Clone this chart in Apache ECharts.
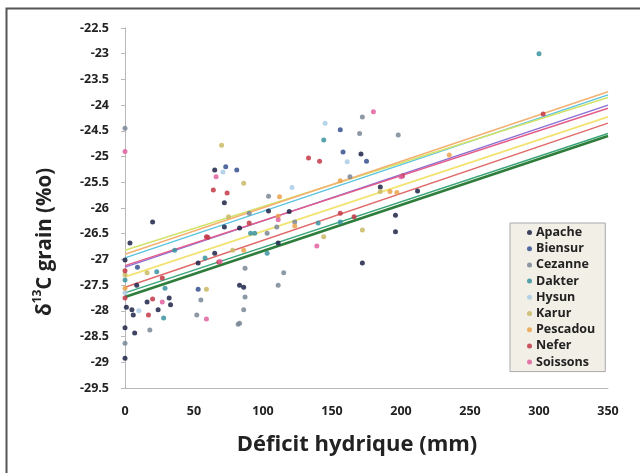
<!DOCTYPE html>
<html>
<head>
<meta charset="utf-8">
<script src="https://cdn.jsdelivr.net/npm/echarts@6/dist/echarts.min.js"></script>
<style>
html,body{margin:0;padding:0;background:#fff;}
#c{width:640px;height:473px;}
</style>
</head>
<body>
<div id="c"></div>
<script>
// ---- data ----
const seriesNames = ['Apache','Biensur','Cezanne','Dakter','Hysun','Karur','Pescadou','Nefer','Soissons'];
const xTicks = [0, 50, 100, 150, 200, 250, 300, 350];
const yTicks = [-29.5, -22.5];

const apache = [[0,-27.01],[1,-27.93],[5,-27.98],[6,-28.08],[0,-28.33],[7,-28.43],[8.5,-27.5],[0,-28.92],[16,-27.83],[32,-27.75],[33,-27.88],[24,-27.98],[20,-26.27],[3.6,-26.68],[53,-27.07],[65,-25.26],[72,-25.9],[72,-26.37],[83,-26.39],[104,-26.06],[119,-26.07],[65,-26.88],[111,-26.68],[86,-27.54],[172,-27.07],[171,-24.95],[196,-26.14],[196,-26.46],[83,-27.5],[212,-25.67],[185,-25.59]];
const biensur = [[158,-24.91],[73,-25.2],[81,-25.26],[53,-27.58],[9,-27.15],[175,-25.09],[156,-24.48]];
const cezanne = [[172,-24.23],[170,-24.55],[198,-24.58],[104,-25.77],[90,-26.1],[110,-26.37],[103,-26.49],[87,-27.17],[115,-27.26],[87,-27.73],[86,-27.98],[83,-28.24],[55,-27.79],[52,-28.08],[82,-28.26],[0,-28.63],[0,-24.45],[111,-27.5],[18,-28.37],[123,-26.27],[163,-25.39]];
const dakter = [[144,-24.68],[91,-26.49],[94,-26.49],[140,-26.29],[156,-26.27],[0,-27.4],[29,-27.56],[36,-26.82],[58,-26.97],[28,-28.14],[103,-26.88],[300,-23.0],[23,-27.24]];
const hysun = [[71,-25.3],[161,-25.1],[121,-25.6],[145,-24.35],[0,-27.65],[10,-28.0]];
const karur = [[70,-24.78],[86,-25.52],[75,-26.17],[78,-26.82],[144,-26.56],[172,-26.43],[185,-25.68],[16,-27.26],[59,-27.58],[0,-27.3]];
const pescadou = [[112,-25.78],[156,-25.47],[192,-25.68],[197,-25.7],[111,-26.16],[86,-26.82],[0,-27.56],[235,-24.97],[123,-26.35]];
const nefer = [[133,-25.03],[141,-25.09],[64,-25.65],[74,-25.71],[90,-26.29],[59,-26.56],[166,-26.17],[156,-26.1],[0,-27.22],[0,-27.75],[20,-27.77],[17,-28.08],[27,-27.36],[68,-27.05],[60,-26.57],[303,-24.17],[201,-25.38]];
const soissons = [[180,-24.13],[66,-25.39],[111,-26.23],[69,-27.04],[139,-26.74],[27,-27.83],[0,-24.9],[200,-25.39],[59,-28.16]];

// trend lines: value at x=0 and x=350
const trendX = [0, 350];
const trendApache   = [-27.73, -24.6];
const trendBiensur  = [-27.15, -24.0];
const trendCezanne  = [-27.65, -24.55];
const trendDakter   = [-26.97, -23.8];
const trendHysun    = [-26.82, -23.85];
const trendKarur    = [-27.34, -24.23];
const trendPescadou = [-26.9, -23.74];
const trendNefer    = [-27.54, -24.35];
const trendSoissons = [-27.12, -24.06];

const pointData = [apache, biensur, cezanne, dakter, hysun, karur, pescadou, nefer, soissons];
const trendData = [trendApache, trendBiensur, trendCezanne, trendDakter, trendHysun, trendKarur, trendPescadou, trendNefer, trendSoissons];

// ---- styles ----
const markerColors = ['#1c2347','#34508f','#7a8796','#3a93a0','#a9cde6','#c9b865','#eba24a','#c23846','#e0609e'];
const lineColors   = ['#2e7d3a','#8a6fd6','#3aa57a','#5cc3e0','#d2e36a','#f2e372','#f4b070','#e06a6a','#e45c8a'];
const lineWidths   = [2.6, 1.5, 1.5, 1.5, 1.5, 1.8, 1.5, 1.5, 1.5];

const FONT = 'Open Sans';
const series = [];
seriesNames.forEach((n, i) => {
  series.push({
    name: n + ' (tendance)',
    type: 'line',
    data: trendX.map((x, k) => [x, trendData[i][k]]),
    showSymbol: false,
    symbol: 'none',
    lineStyle: { color: lineColors[i], width: lineWidths[i] },
    silent: true,
    z: 2
  });
});
seriesNames.forEach((n, i) => {
  series.push({
    name: n,
    type: 'scatter',
    data: pointData[i],
    symbol: 'circle',
    symbolSize: 5,
    itemStyle: { color: markerColors[i], opacity: 0.85 },
    z: 3
  });
});

const chart = echarts.init(document.getElementById('c'), null, { renderer: 'canvas' });
chart.setOption({
  backgroundColor: '#fff',
  animation: false,
  grid: { left: 125, top: 28, right: 32, bottom: 85, containLabel: false },
  xAxis: {
    type: 'value', min: xTicks[0], max: xTicks[xTicks.length - 1], interval: 50,
    axisLine: { show: true, lineStyle: { color: '#b8b8b8', width: 1 } },
    axisTick: { show: false },
    splitLine: { show: false },
    axisLabel: { color: '#222', fontFamily: FONT, fontWeight: 'bold', fontSize: 12.5, margin: 17 }
  },
  yAxis: {
    type: 'value', min: yTicks[0], max: yTicks[1], interval: 0.5,
    axisLine: { show: true, onZero: false, lineStyle: { color: '#b8b8b8', width: 1 } },
    axisTick: { show: true, length: 4, lineStyle: { color: '#b8b8b8' } },
    splitLine: { show: false },
    axisLabel: { color: '#222', fontFamily: FONT, fontWeight: 'bold', fontSize: 12.5, margin: 16 }
  },
  legend: {
    orient: 'vertical',
    left: 510, top: 223,
    width: 95,
    data: seriesNames.map(n => ({ name: n, icon: 'circle' })),
    itemWidth: 5, itemHeight: 5, itemGap: 3.2,
    padding: [3, 10, 3, 17],
    backgroundColor: '#f1efe6',
    borderColor: '#a8a8a8', borderWidth: 1,
    textStyle: { color: '#222', fontFamily: FONT, fontWeight: 'bold', fontSize: 12.5, lineHeight: 12, padding: [0,0,0,-1] }
  },
  graphic: [
    { type: 'rect', left: 4, top: 6, shape: { width: 700, height: 520 }, style: { fill: 'none', stroke: '#555', lineWidth: 2 }, silent: true },
    { type: 'text', x: 45, y: 242, rotation: Math.PI / 2,
      style: {
        text: '{a|δ}{s|13}{a|C grain (%o)}',
        align: 'center', verticalAlign: 'middle',
        rich: {
          a: { fontFamily: FONT, fontWeight: 'bold', fontSize: 20.5, fill: '#222', lineHeight: 26 },
          s: { fontFamily: FONT, fontWeight: 'bold', fontSize: 12, fill: '#222', verticalAlign: 'top', lineHeight: 26, padding: [0,0,10,0] }
        }
      } },
    { type: 'text', x: 357, y: 445,
      style: { text: 'Déficit hydrique (mm)', align: 'center', verticalAlign: 'middle',
        fontFamily: FONT, fontWeight: 'bold', fontSize: 22, fill: '#222' } }
  ],
  series: series
});
</script>
</body>
</html>
